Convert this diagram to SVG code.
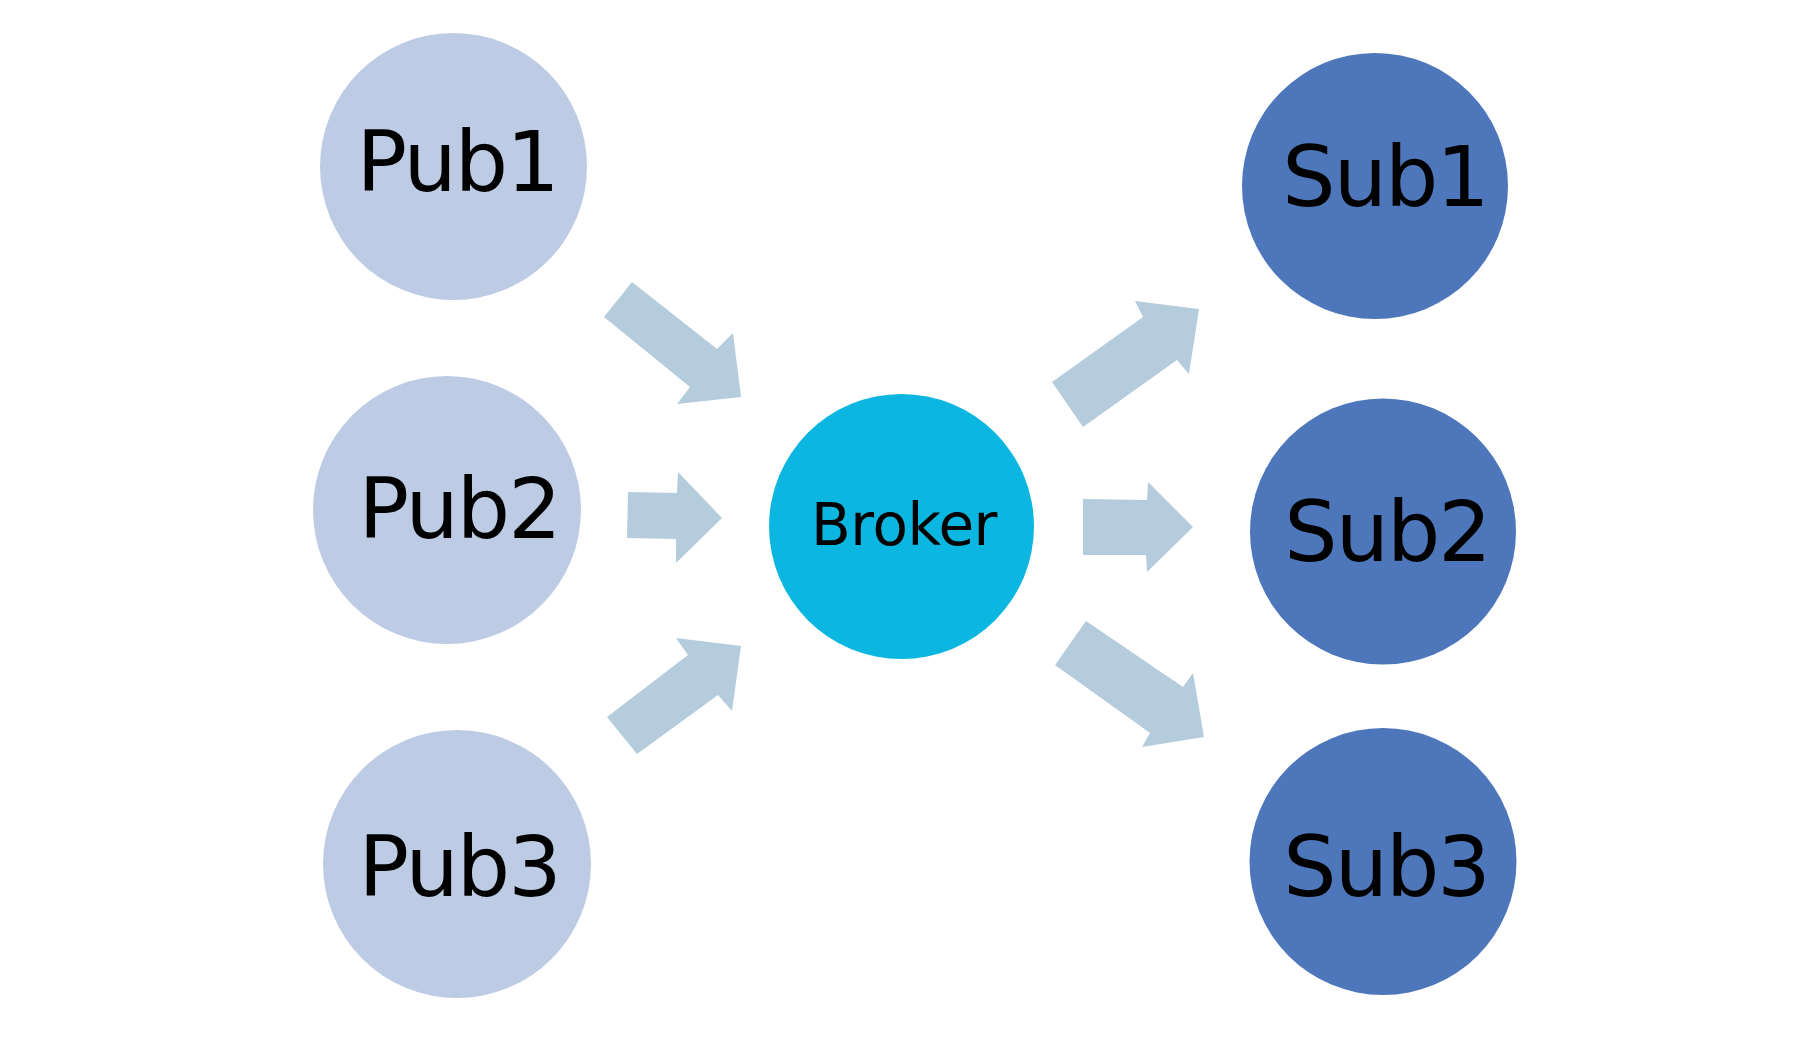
<svg xmlns="http://www.w3.org/2000/svg" width="1800" height="1050" viewBox="0 0 1800 1050">
<style>
.pub{fill:#BDCCE4}
.sub{fill:#4E76BB}
.brk{fill:#0BB6E1}
.arr{fill:#B4CCDC}
.lbl{font-family:"DejaVu Sans","Liberation Sans",sans-serif;font-size:84px;letter-spacing:-2px;fill:#000;text-anchor:middle}
.lbls{font-family:"DejaVu Sans","Liberation Sans",sans-serif;font-size:58px;letter-spacing:-0.5px;fill:#000;text-anchor:middle}
</style>
<rect width="1800" height="1050" fill="#fff"/>
<g id="connectors">
<polygon class="arr" points="632,282 717,349 733,333 741,397 677,404 690,387 604,317"/>
<polygon class="arr" points="628,492 677,493 678,472 722,518 676,563 676,539 627,538"/>
<polygon class="arr" points="637,754 607,717 688,655 676,638 741,646 732,711 718,695"/>
<polygon class="arr" points="1083,427 1052,382 1143,317 1135,301 1199,309 1189,374 1177,360"/>
<polygon class="arr" points="1083,499 1147,500 1148,482 1193,527 1147,572 1146,555 1083,555"/>
<polygon class="arr" points="1086,621 1055,665 1150,733 1142,747 1204,737 1193,673 1183,687"/>
</g>
<g id="pub1"><circle class="pub" cx="453.5" cy="166.5" r="133.5"/><text class="lbl" x="457" y="191">Pub1</text></g>
<g id="pub2"><circle class="pub" cx="447" cy="510" r="134"/><text class="lbl" x="459" y="538">Pub2</text></g>
<g id="pub3"><circle class="pub" cx="457" cy="864" r="134"/><text class="lbl" x="459" y="896">Pub3</text></g>
<g id="broker"><circle class="brk" cx="901.5" cy="526.5" r="132.5"/><text class="lbls" x="904" y="545">Broker</text></g>
<g id="sub1"><circle class="sub" cx="1375" cy="186" r="133"/><text class="lbl" x="1385" y="206">Sub1</text></g>
<g id="sub2"><circle class="sub" cx="1383" cy="531.5" r="133"/><text class="lbl" x="1387" y="561">Sub2</text></g>
<g id="sub3"><circle class="sub" cx="1383" cy="861.5" r="133.5"/><text class="lbl" x="1386" y="896">Sub3</text></g>
</svg>
